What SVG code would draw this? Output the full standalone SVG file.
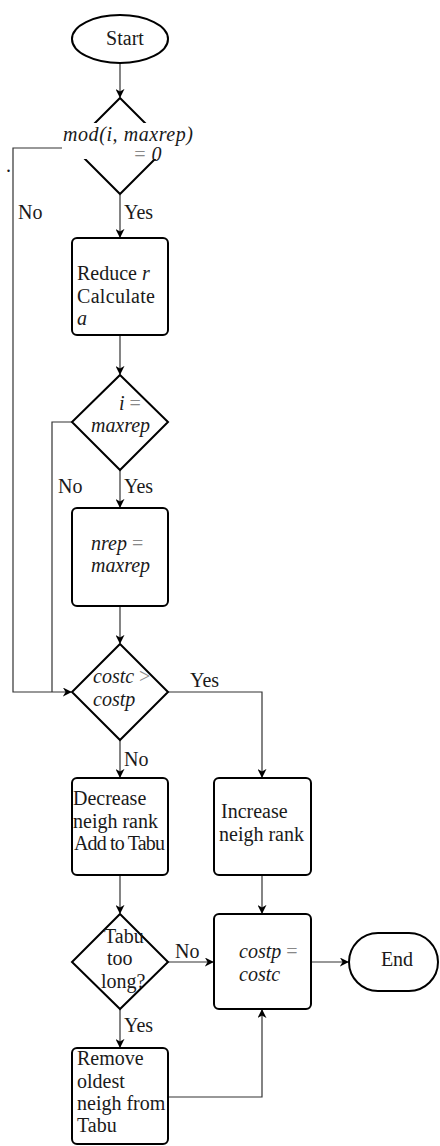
<svg xmlns="http://www.w3.org/2000/svg" width="440" height="1146" viewBox="0 0 440 1146">
<style>
.n{fill:#fff;stroke:#000;stroke-width:2}
.t{font-family:"Liberation Serif","Times New Roman",serif;font-size:20px;fill:#1a1a1a}
.m{font-style:italic}
.op{fill:#888}
.c{fill:none;stroke:#333;stroke-width:1.2}
</style>
<defs>
<marker id="a" viewBox="0 0 10 10" refX="9" refY="5" markerWidth="9" markerHeight="9" markerUnits="userSpaceOnUse" orient="auto">
<path d="M0,0 L10,5 L0,10 L3,5 Z" fill="#000"/>
</marker>
</defs>
<rect width="440" height="1146" fill="#fff"/>
<g id="connectors">
<path class="c" d="M120,63 V97" marker-end="url(#a)"/>
<path class="c" d="M120,195 V237" marker-end="url(#a)"/>
<path class="c" d="M62,148 H13 V692 H71" marker-end="url(#a)"/>
<path class="c" d="M120,335 V374" marker-end="url(#a)"/>
<path class="c" d="M72,422 H52 V692"/>
<path class="c" d="M120,470 V507" marker-end="url(#a)"/>
<path class="c" d="M120,606 V643" marker-end="url(#a)"/>
<path class="c" d="M168,692 H262 V777" marker-end="url(#a)"/>
<path class="c" d="M120,740 V777" marker-end="url(#a)"/>
<path class="c" d="M120,875 V913" marker-end="url(#a)"/>
<path class="c" d="M262,875 V913" marker-end="url(#a)"/>
<path class="c" d="M168,962 H213" marker-end="url(#a)"/>
<path class="c" d="M311,962 H348" marker-end="url(#a)"/>
<path class="c" d="M120,1009 V1047" marker-end="url(#a)"/>
<path class="c" d="M168,1097 H262 V1010" marker-end="url(#a)"/>
<text class="t" x="124" y="219">Yes</text>
<text class="t" x="18" y="219">No</text>
<text class="t" x="124" y="493">Yes</text>
<text class="t" x="58" y="493">No</text>
<text class="t" x="190" y="687">Yes</text>
<text class="t" x="124" y="766">No</text>
<text class="t" x="175" y="958">No</text>
<text class="t" x="124" y="1032">Yes</text>
<text class="t" x="6" y="172">.</text>
</g>
<g id="start">
<ellipse class="n" cx="120" cy="39" rx="48" ry="24"/>
<text class="t" x="125" y="45" text-anchor="middle">Start</text>
</g>
<g id="mod">
<path class="n" d="M120,98 L168,146 L120,194 L72,146 Z"/>
<rect x="62" y="123" width="133" height="36" fill="#fff"/>
<text class="t m" x="63" y="141" textLength="130">mod(i, maxrep)</text>
<text class="t m" x="133" y="161"><tspan class="op">=</tspan> 0</text>
</g>
<g id="reduce">
<rect class="n" x="72" y="238" width="96" height="97" rx="5"/>
<text class="t" x="77" y="280">Reduce <tspan class="m">r</tspan></text>
<text class="t" x="77" y="303" textLength="78">Calculate</text>
<text class="t m" x="77" y="325">a</text>
</g>
<g id="ieq">
<path class="n" d="M120,375 L168,422 L120,470 L72,422 Z"/>
<text class="t m" x="119" y="410">i <tspan class="op" font-style="normal">=</tspan></text>
<text class="t m" x="91" y="432" textLength="59">maxrep</text>
</g>
<g id="nrep">
<rect class="n" x="72" y="508" width="96" height="98" rx="5"/>
<text class="t m" x="91" y="550">nrep <tspan class="op" font-style="normal">=</tspan></text>
<text class="t m" x="91" y="572" textLength="59">maxrep</text>
</g>
<g id="cost">
<path class="n" d="M120,644 L168,692 L120,740 L72,692 Z"/>
<text class="t m" x="93" y="683">costc <tspan class="op" font-style="normal">&gt;</tspan></text>
<text class="t m" x="93" y="706">costp</text>
</g>
<g id="decrease">
<rect class="n" x="72" y="778" width="96" height="97" rx="5"/>
<text class="t" x="73" y="805">Decrease</text>
<text class="t" x="73" y="828">neigh rank</text>
<text class="t" x="74" y="850" font-size="18" textLength="91">Add to Tabu</text>
</g>
<g id="increase">
<rect class="n" x="214" y="778" width="97" height="97" rx="5"/>
<text class="t" x="221" y="818">Increase</text>
<text class="t" x="219" y="841">neigh rank</text>
</g>
<g id="tabu">
<path class="n" d="M120,914 L168,962 L120,1009 L72,962 Z"/>
<text class="t" x="104" y="943">Tabu</text>
<text class="t" x="107" y="965">too</text>
<text class="t" x="101" y="988">long?</text>
</g>
<g id="assign">
<rect class="n" x="214" y="914" width="97" height="95" rx="5"/>
<text class="t m" x="239" y="958">costp <tspan class="op" font-style="normal">=</tspan></text>
<text class="t m" x="239" y="981">costc</text>
</g>
<g id="end">
<rect class="n" x="349" y="933" width="89" height="58" rx="29"/>
<text class="t" x="397" y="966" text-anchor="middle">End</text>
</g>
<g id="remove">
<rect class="n" x="72" y="1048" width="96" height="96" rx="5"/>
<text class="t" x="77" y="1065">Remove</text>
<text class="t" x="77" y="1088">oldest</text>
<text class="t" x="77" y="1110">neigh from</text>
<text class="t" x="77" y="1132">Tabu</text>
</g>
</svg>
